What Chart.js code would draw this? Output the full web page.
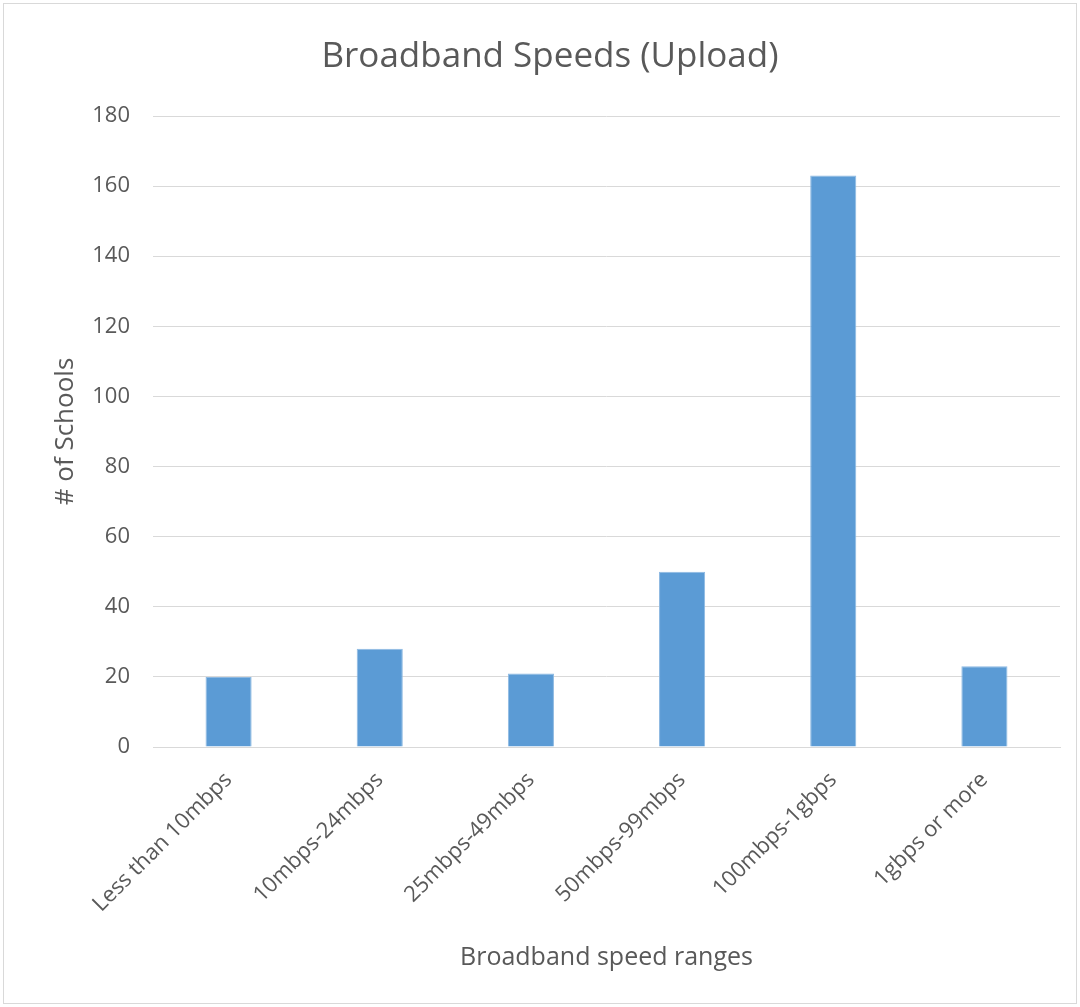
<!DOCTYPE html>
<html>
<head>
<meta charset="utf-8">
<script src="https://cdn.jsdelivr.net/npm/chart.js@4"></script>
<style>
  html, body { margin: 0; padding: 0; background: #fff; }
  #wrap { position: absolute; left: 3px; top: 3px; width: 1074px; height: 1001px; border: 1px solid #d9d9d9; box-sizing: border-box; }
  #c { position: absolute; left: 0; top: 0; }
</style>
</head>
<body>
<div id="wrap"></div>
<canvas id="c" width="1080" height="1007"></canvas>
<script>
const categories = ["Less than 10mbps", "10mbps-24mbps", "25mbps-49mbps", "50mbps-99mbps", "100mbps-1gbps", "1gbps or more"];
const schools = [20, 28, 21, 50, 163, 23];
const titleText = "Broadband Speeds (Upload)";
const xTitle = "Broadband speed ranges";
const yTitle = "# of Schools";

const FONT = "'Open Sans', Lato, sans-serif";
const grey = "#595959";

new Chart(document.getElementById("c"), {
  type: "bar",
  data: {
    labels: categories,
    datasets: [{
      data: schools,
      backgroundColor: "#5B9BD5",
      borderColor: "#8DB9E2",
      borderWidth: 1,
      barPercentage: 1,
      categoryPercentage: 0.305
    }]
  },
  options: {
    responsive: false,
    animation: false,
    layout: { padding: { left: 40, right: 20, top: 0, bottom: 0 } },
    plugins: {
      legend: { display: false },
      tooltip: { enabled: false },
      title: {
        display: true,
        text: titleText,
        color: grey,
        font: { family: FONT, size: 35, weight: "normal" },
        padding: { top: 36, bottom: 38 }
      }
    },
    scales: {
      x: {
        afterFit: (s) => { s.height = 260; },
        grid: { display: false, drawTicks: false },
        border: { display: true, color: "#d9d9d9", width: 1 },
        ticks: {
          color: grey,
          font: { family: FONT, size: 22 },
          minRotation: 45,
          maxRotation: 45,
          padding: 20
        },
        title: {
          display: true,
          text: xTitle,
          color: grey,
          font: { family: FONT, size: 25 },
          padding: { top: 0, bottom: 34 }
        }
      },
      y: {
        afterFit: (s) => { s.width = 113; },
        min: 0,
        max: 180,
        ticks: {
          stepSize: 20,
          color: grey,
          font: { family: FONT, size: 22 },
          padding: 23
        },
        grid: { color: "#d9d9d9", lineWidth: 1, drawTicks: false },
        border: { display: false },
        title: {
          display: true,
          text: yTitle,
          color: grey,
          font: { family: FONT, size: 26 },
          padding: { top: 10, bottom: 0 }
        }
      }
    }
  }
});
</script>
</body>
</html>
